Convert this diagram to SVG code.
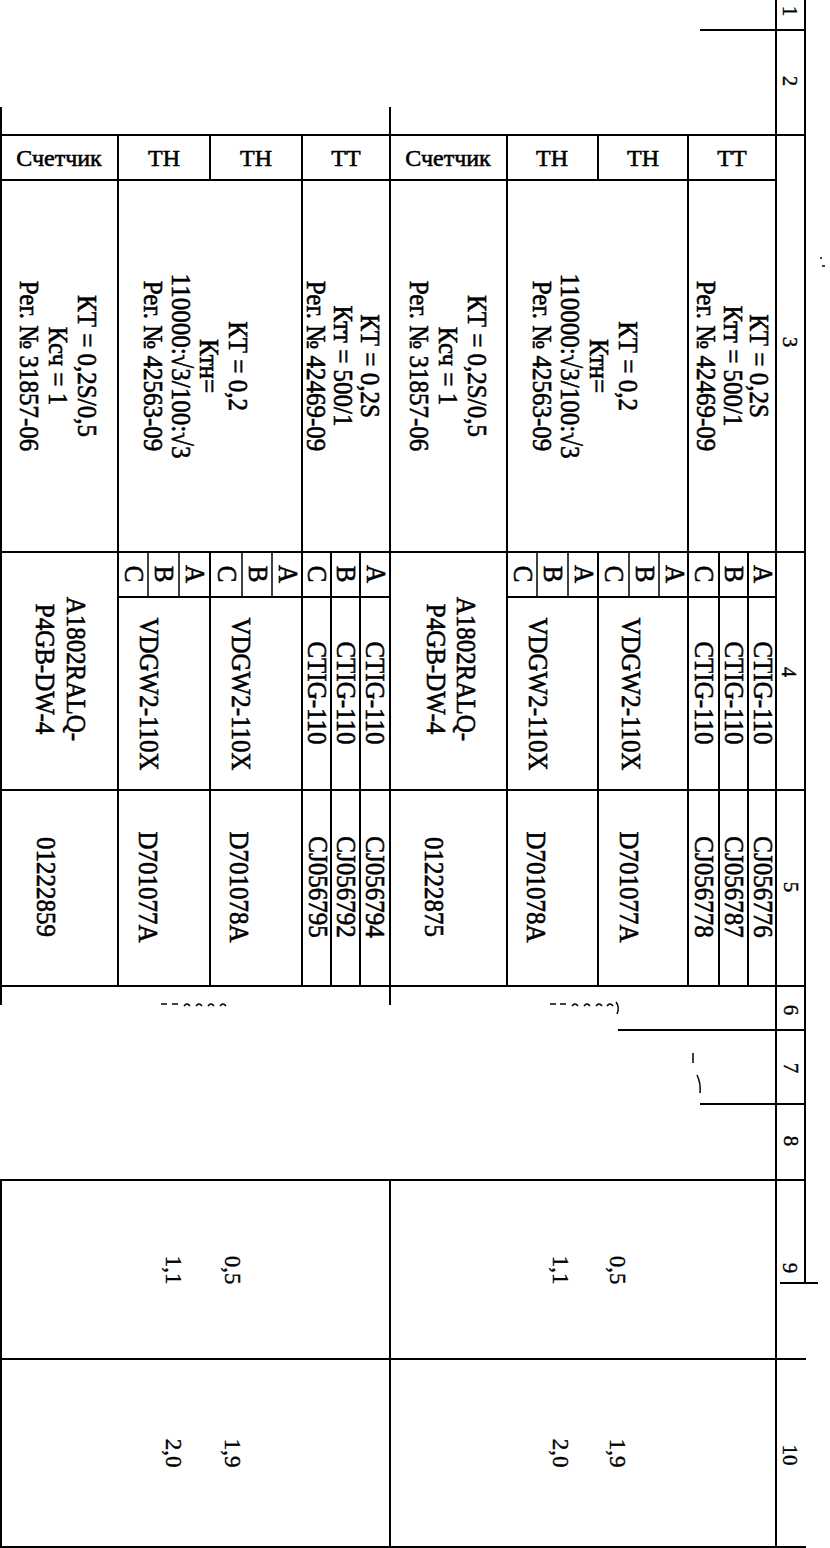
<svg xmlns="http://www.w3.org/2000/svg" width="830" height="1548" viewBox="0 0 830 1548">
<style>
.ln{stroke:#000;stroke-width:2;fill:none}
.th{stroke:#000;stroke-width:1.5;fill:none}
.t{font-family:"Liberation Serif","Times New Roman",serif;font-size:25px;fill:#000;text-anchor:middle;stroke:#000;stroke-width:0.55}
.h{font-size:24px}
.n{font-size:23px;stroke-width:0.4}
.s{font-size:21px;stroke-width:0.4}
</style>
<rect width="830" height="1548" fill="#fff"/>
<g id="grid">
<path class="ln" d="M700 30H805 M0 135H805 M0 180H777 M0 552H806 M118 597H390 M507 597H777 M0 790H806 M0 986H806 M618 1030H806 M700 1104H806 M0 1180H806 M780 1283H818 M0 1359H806 M0 1547H806"/>
<path class="ln" d="M1 107V1005 M1 1180V1548 M390 107V1005 M390 1180V1548 M776 0V1548 M805 0V1283"/>
<path class="ln" d="M118 135V180 M210 135V180 M302 135V180 M507 135V180 M598 135V180 M688 135V180"/>
<path class="ln" d="M118 180V552 M302 180V552 M507 180V552 M688 180V552"/>
<path class="ln" d="M118 552V986 M210 552V986 M302 552V986 M331 552V986 M360 552V986 M507 552V986 M598 552V986 M688 552V986 M719 552V986 M748 552V986"/>
<path class="th" d="M148 552V597 M179 552V597 M242 552V597 M272 552V597 M537 552V597 M568 552V597 M629 552V597 M659 552V597"/>
</g>
<g id="marks" class="th">
<path d="M161 1004h6 M172 1004h6 M184 1006q3-4 6 0 M196 1006q3-4 6 0 M208 1006q3-4 6 0 M220 1006q3-4 6 0"/>
<path d="M550 1004h6 M560 1004h6 M572 1006q3-4 6 0 M584 1006q3-4 6 0 M596 1006q3-4 6 0 M607 1006q3-4 6 0 M616 1002q4 5 1 12"/>
<path d="M693 1053v10 M697 1075q4 8 3 18"/>
<path d="M820 258h2 M822 266h3"/>
</g>
<g id="strip">
<text class="t s" transform="translate(790 11) rotate(90)" y="7">1</text>
<text class="t s" transform="translate(790 81) rotate(90)" y="7">2</text>
<text class="t s" transform="translate(790 342) rotate(90)" y="7">3</text>
<text class="t s" transform="translate(789 672) rotate(90)" y="7">4</text>
<text class="t s" transform="translate(791 887) rotate(90)" y="7">5</text>
<text class="t s" transform="translate(791 1010) rotate(90)" y="7">6</text>
<text class="t s" transform="translate(791 1068) rotate(90)" y="7">7</text>
<text class="t s" transform="translate(791 1141) rotate(90)" y="7">8</text>
<text class="t s" transform="translate(790 1268) rotate(90)" y="7">9</text>
<text class="t s" transform="translate(790 1455) rotate(90)" y="7">10</text>
</g>
<g id="header">
<text class="t h" x="59" y="166">Счетчик</text>
<text class="t h" x="164" y="166">ТН</text>
<text class="t h" x="256" y="166">ТН</text>
<text class="t h" x="346" y="166">ТТ</text>
<text class="t h" x="448" y="166">Счетчик</text>
<text class="t h" x="552" y="166">ТН</text>
<text class="t h" x="643" y="166">ТН</text>
<text class="t h" x="732" y="166">ТТ</text>
</g>
<g id="row3">
<text class="t" transform="translate(86 366) rotate(90) scale(1 1.1)" y="7.5">КТ = 0,2S/0,5</text>
<text class="t" transform="translate(57 366) rotate(90) scale(1 1.1)" y="7.5">Ксч = 1</text>
<text class="t" transform="translate(28 366) rotate(90) scale(1 1.1)" y="7.5">Рег. № 31857-06</text>
<text class="t" transform="translate(237 366) rotate(90) scale(1 1.1)" y="7.5">КТ = 0,2</text>
<text class="t" transform="translate(208 366) rotate(90) scale(1 1.1)" y="7.5">Ктн=</text>
<text class="t" transform="translate(180 366) rotate(90) scale(1 1.1)" y="7.5">110000:√3/100:√3</text>
<text class="t" transform="translate(152 366) rotate(90) scale(1 1.1)" y="7.5">Рег. № 42563-09</text>
<text class="t" transform="translate(369 366) rotate(90) scale(1 1.1)" y="7.5">КТ = 0,2S</text>
<text class="t" transform="translate(342 366) rotate(90) scale(1 1.1)" y="7.5">Ктт = 500/1</text>
<text class="t" transform="translate(315 366) rotate(90) scale(1 1.1)" y="7.5">Рег. № 42469-09</text>
<text class="t" transform="translate(476 366) rotate(90) scale(1 1.1)" y="7.5">КТ = 0,2S/0,5</text>
<text class="t" transform="translate(447 366) rotate(90) scale(1 1.1)" y="7.5">Ксч = 1</text>
<text class="t" transform="translate(418 366) rotate(90) scale(1 1.1)" y="7.5">Рег. № 31857-06</text>
<text class="t" transform="translate(627 366) rotate(90) scale(1 1.1)" y="7.5">КТ = 0,2</text>
<text class="t" transform="translate(598 366) rotate(90) scale(1 1.1)" y="7.5">Ктн=</text>
<text class="t" transform="translate(569 366) rotate(90) scale(1 1.1)" y="7.5">110000:√3/100:√3</text>
<text class="t" transform="translate(541 366) rotate(90) scale(1 1.1)" y="7.5">Рег. № 42563-09</text>
<text class="t" transform="translate(758 366) rotate(90) scale(1 1.1)" y="7.5">КТ = 0,2S</text>
<text class="t" transform="translate(732 366) rotate(90) scale(1 1.1)" y="7.5">Ктт = 500/1</text>
<text class="t" transform="translate(705 366) rotate(90) scale(1 1.1)" y="7.5">Рег. № 42469-09</text>
</g>
<g id="row4">
<text class="t" transform="translate(133 574) rotate(90) scale(1 1.1)" y="7.5">C</text>
<text class="t" transform="translate(163 574) rotate(90) scale(1 1.1)" y="7.5">B</text>
<text class="t" transform="translate(194 574) rotate(90) scale(1 1.1)" y="7.5">A</text>
<text class="t" transform="translate(226 574) rotate(90) scale(1 1.1)" y="7.5">C</text>
<text class="t" transform="translate(257 574) rotate(90) scale(1 1.1)" y="7.5">B</text>
<text class="t" transform="translate(287 574) rotate(90) scale(1 1.1)" y="7.5">A</text>
<text class="t" transform="translate(316 574) rotate(90) scale(1 1.1)" y="7.5">C</text>
<text class="t" transform="translate(345 574) rotate(90) scale(1 1.1)" y="7.5">B</text>
<text class="t" transform="translate(375 574) rotate(90) scale(1 1.1)" y="7.5">A</text>
<text class="t" transform="translate(522 574) rotate(90) scale(1 1.1)" y="7.5">C</text>
<text class="t" transform="translate(552 574) rotate(90) scale(1 1.1)" y="7.5">B</text>
<text class="t" transform="translate(583 574) rotate(90) scale(1 1.1)" y="7.5">A</text>
<text class="t" transform="translate(613 574) rotate(90) scale(1 1.1)" y="7.5">C</text>
<text class="t" transform="translate(644 574) rotate(90) scale(1 1.1)" y="7.5">B</text>
<text class="t" transform="translate(674 574) rotate(90) scale(1 1.1)" y="7.5">A</text>
<text class="t" transform="translate(703 574) rotate(90) scale(1 1.1)" y="7.5">C</text>
<text class="t" transform="translate(733 574) rotate(90) scale(1 1.1)" y="7.5">B</text>
<text class="t" transform="translate(762 574) rotate(90) scale(1 1.1)" y="7.5">A</text>
<text class="t" transform="translate(75 669) rotate(90) scale(1 1.1)" y="7.5">A1802RALQ-</text>
<text class="t" transform="translate(44 669) rotate(90) scale(1 1.1)" y="7.5">P4GB-DW-4</text>
<text class="t" transform="translate(148 694) rotate(90) scale(1 1.1)" y="7.5">VDGW2-110X</text>
<text class="t" transform="translate(240 694) rotate(90) scale(1 1.1)" y="7.5">VDGW2-110X</text>
<text class="t" transform="translate(316 693) rotate(90) scale(1 1.1)" y="7.5">CTIG-110</text>
<text class="t" transform="translate(345 693) rotate(90) scale(1 1.1)" y="7.5">CTIG-110</text>
<text class="t" transform="translate(374 693) rotate(90) scale(1 1.1)" y="7.5">CTIG-110</text>
<text class="t" transform="translate(465 669) rotate(90) scale(1 1.1)" y="7.5">A1802RALQ-</text>
<text class="t" transform="translate(435 669) rotate(90) scale(1 1.1)" y="7.5">P4GB-DW-4</text>
<text class="t" transform="translate(537 694) rotate(90) scale(1 1.1)" y="7.5">VDGW2-110X</text>
<text class="t" transform="translate(630 694) rotate(90) scale(1 1.1)" y="7.5">VDGW2-110X</text>
<text class="t" transform="translate(703 693) rotate(90) scale(1 1.1)" y="7.5">CTIG-110</text>
<text class="t" transform="translate(733 693) rotate(90) scale(1 1.1)" y="7.5">CTIG-110</text>
<text class="t" transform="translate(762 693) rotate(90) scale(1 1.1)" y="7.5">CTIG-110</text>
</g>
<g id="row5">
<text class="t" transform="translate(45 887) rotate(90) scale(1 1.1)" y="7.5">01222859</text>
<text class="t" transform="translate(147 887) rotate(90) scale(1 1.1)" y="7.5">D701077A</text>
<text class="t" transform="translate(238 887) rotate(90) scale(1 1.1)" y="7.5">D701078A</text>
<text class="t" transform="translate(317 887) rotate(90) scale(1 1.1)" y="7.5">CJ056795</text>
<text class="t" transform="translate(345 887) rotate(90) scale(1 1.1)" y="7.5">CJ056792</text>
<text class="t" transform="translate(374 887) rotate(90) scale(1 1.1)" y="7.5">CJ056794</text>
<text class="t" transform="translate(433 887) rotate(90) scale(1 1.1)" y="7.5">01222875</text>
<text class="t" transform="translate(535 887) rotate(90) scale(1 1.1)" y="7.5">D701078A</text>
<text class="t" transform="translate(628 887) rotate(90) scale(1 1.1)" y="7.5">D701077A</text>
<text class="t" transform="translate(703 887) rotate(90) scale(1 1.1)" y="7.5">CJ056778</text>
<text class="t" transform="translate(733 887) rotate(90) scale(1 1.1)" y="7.5">CJ056787</text>
<text class="t" transform="translate(762 887) rotate(90) scale(1 1.1)" y="7.5">CJ056776</text>
</g>
<g id="row9">
<text class="t n" transform="translate(232 1270) rotate(90)" y="7.5">0,5</text>
<text class="t n" transform="translate(173 1270) rotate(90)" y="7.5">1,1</text>
<text class="t n" transform="translate(617 1270) rotate(90)" y="7.5">0,5</text>
<text class="t n" transform="translate(560 1270) rotate(90)" y="7.5">1,1</text>
</g>
<g id="row10">
<text class="t n" transform="translate(232 1453) rotate(90)" y="7.5">1,9</text>
<text class="t n" transform="translate(173 1453) rotate(90)" y="7.5">2,0</text>
<text class="t n" transform="translate(617 1453) rotate(90)" y="7.5">1,9</text>
<text class="t n" transform="translate(560 1453) rotate(90)" y="7.5">2,0</text>
</g>
</svg>
